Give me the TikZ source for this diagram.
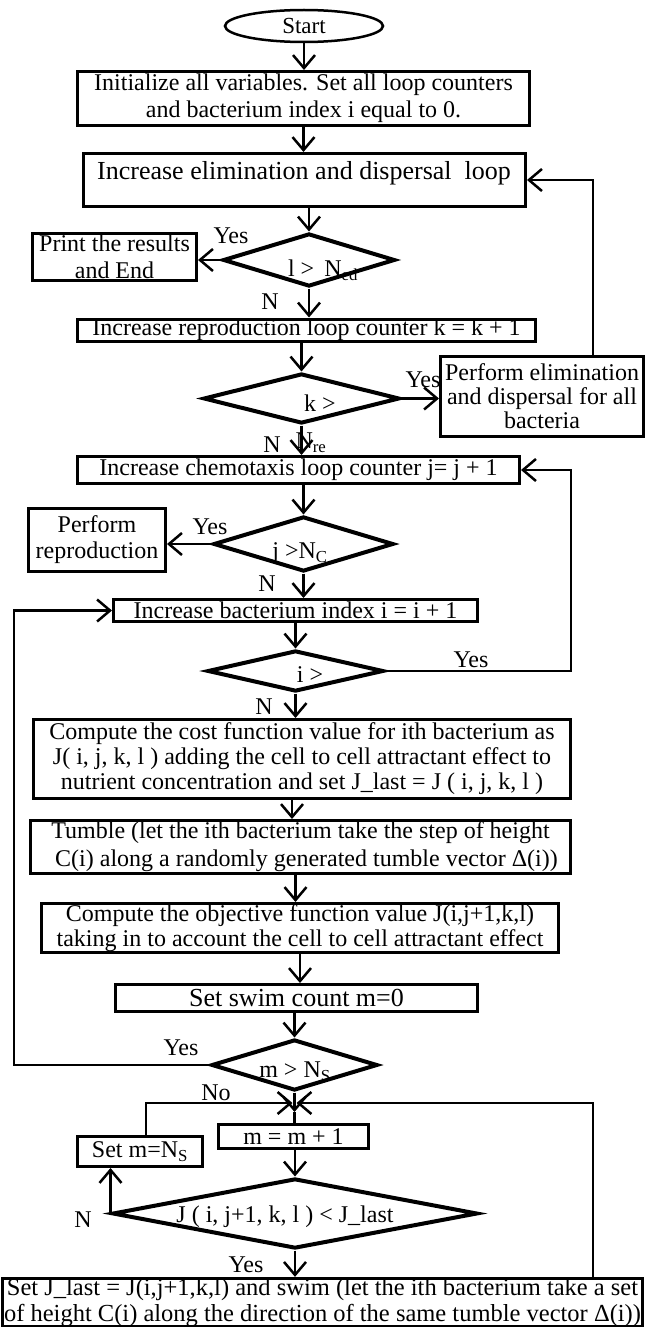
\documentclass[tikz,border=0pt]{standalone}
\usepackage{fontspec}
\setmainfont{Liberation Serif}
\usetikzlibrary{shapes.geometric,arrows.meta,calc}
\newcommand{\fsz}[2]{\fontsize{#1}{#2}\selectfont}
\begin{document}
\begin{tikzpicture}[x=1pt,y=-1pt,
 box/.style={draw,line width=3pt,inner sep=0pt,align=center,font=\fsz{24}{27}},
 dia/.style={draw,diamond,line width=4pt,inner sep=0pt},
 arr/.style={line width=2.5pt,-{Straight Barb[length=13pt,width=22pt]}},
 ln/.style={line width=2.5pt},
 lbl/.style={inner sep=0pt,align=center,font=\fsz{24}{27}}]
\useasboundingbox (0,0) rectangle (645,1327);
% nodes
\node[draw,ellipse,line width=2.5pt,minimum width=158pt,minimum height=32pt,inner sep=0pt,font=\fsz{23}{27}] (start) at (304,26) {Start};
\node[box,minimum width=452pt,minimum height=54pt] (init) at (303.5,98.5) {Initialize all variables. Set all loop counters\\and bacterium index i equal to 0.};
\node[box,minimum width=442pt,minimum height=53pt] (elim) at (304.5,180) {};
\node[lbl,font=\fsz{26}{30}] (elimt) at (304,173) {Increase elimination and dispersal\ \ loop};
\node[dia,minimum width=172pt,minimum height=53pt] (ld) at (309,260) {};
\node[lbl] (ldt) at (323,270) {l > \,N\textsubscript{ed}};
\node[box,minimum width=164pt,minimum height=47pt] (print) at (114.5,257) {Print the results\\and End};
\node[lbl] (y1) at (231,236) {Yes};
\node[lbl] (n1) at (270,302) {N};
\node[box,minimum width=458pt,minimum height=22pt] (repro) at (306.5,330) {Increase reproduction loop counter k = k + 1};
\node[dia,minimum width=196pt,minimum height=50pt] (kd) at (301.5,398.5) {};
\node[lbl] (kdt) at (320,403) {k >};
\node[lbl] (kdt2) at (311,443) {N\textsubscript{re}};
\node[lbl] (n2) at (272,445) {N};
\node[lbl] (y2) at (423,380) {Yes};
\node[box,fill=white,minimum width=203pt,minimum height=80pt,font=\fsz{24}{24}] (pelim) at (542,396) {Perform elimination\\and dispersal for all\\bacteria};
\node[box,minimum width=442pt,minimum height=27pt] (chemo) at (298.5,470) {Increase chemotaxis loop counter j= j + 1};
\node[dia,minimum width=180pt,minimum height=55pt] (jd) at (303.5,544) {};
\node[lbl] (jdt) at (300,553) {j >N\textsubscript{C}};
\node[box,minimum width=137pt,minimum height=63pt,font=\fsz{24}{26}] (prep) at (97,540) {Perform\\reproduction};
\node[lbl] (y3) at (210,527) {Yes};
\node[lbl] (n3) at (267,584) {N};
\node[box,minimum width=364pt,minimum height=22pt] (bact) at (295.5,610.5) {Increase bacterium index i = i + 1};
\node[dia,minimum width=176pt,minimum height=41pt] (id) at (295.5,671) {};
\node[lbl] (idt) at (310,675) {i >};
\node[lbl] (y4) at (471,660) {Yes};
\node[lbl] (n4) at (264,707) {N};
\node[box,minimum width=537pt,minimum height=79pt,font=\fsz{24}{25}] (cost) at (302,759) {Compute the cost function value for ith bacterium as\\J( i, j, k, l ) adding the cell to cell attractant effect to\\nutrient concentration and set J\_last = J ( i, j, k, l )};
\node[box,minimum width=540pt,minimum height=53pt,font=\fsz{24}{28}] (tumble) at (300.5,847) {Tumble (let the ith bacterium take the step of height\\\hspace*{12pt}C(i) along a randomly generated tumble vector Δ(i))};
\node[box,minimum width=517pt,minimum height=49pt,font=\fsz{24}{25}] (obj) at (300,928) {Compute the objective function value J(i,j+1,k,l)\\taking in to account the cell to cell attractant effect};
\node[box,minimum width=362pt,minimum height=27pt,font=\fsz{26}{30}] (swim) at (296.5,998) {Set swim count m=0};
\node[dia,minimum width=166pt,minimum height=51pt] (md) at (294.5,1065) {};
\node[lbl] (mdt) at (295,1072) {m > N\textsubscript{S}};
\node[lbl] (y5) at (181,1048) {Yes};
\node[lbl] (n5) at (216,1093) {No};
\coordinate (junc) at (294.5,1112);
\coordinate (jh) at (294.5,1103);
\coordinate (lloop) at (14,0);
\coordinate (iloop) at (571,0);
\coordinate (eloop) at (593,0);
\node[box,minimum width=150pt,minimum height=24pt] (mbox) at (293.5,1136.5) {m = m + 1};
\node[box,minimum width=125pt,minimum height=30pt] (setm) at (140,1151.5) {Set m=N\textsubscript{S}};
\node[dia,minimum width=365pt,minimum height=70pt] (jl) at (295,1213.5) {};
\node[lbl] (jlt) at (285,1217) {J ( i, j+1, k, l ) < J\_last};
\node[lbl] (n6) at (83,1220) {N};
\node[lbl] (y6) at (246,1265) {Yes};
\node[box,minimum width=640pt,minimum height=46pt,font=\fsz{24.5}{26}] (swimset) at (322.5,1302.5) {Set J\_last = J(i,j+1,k,l) and swim (let the ith bacterium take a set\\of height C(i) along the direction of the same tumble vector Δ(i))};
% connectors
\draw[arr] (start.south) -- (start.south |- init.north);
\draw[arr] (init.south) -- (init.south |- elim.north);
\draw[arr] (ld.north |- elim.south) -- (ld.north);
\draw[arr] (ld.west) -- (ld.west -| print.east);
\draw[arr] (ld.south) -- (ld.south |- repro.north);
\draw[arr] (kd.north |- repro.south) -- (kd.north);
\draw[arr] (kd.east) -- (kd.east -| pelim.west);
\draw[arr] (pelim.north -| eloop) |- (elim.east);
\draw[arr] (kd.south) -- (kd.south |- chemo.north);
\draw[arr] (jd.north |- chemo.south) -- (jd.north);
\draw[arr] (jd.west) -- (jd.west -| prep.east);
\draw[arr] (jd.south) -- (jd.south |- bact.north);
\draw[arr] (id.north |- bact.south) -- (id.north);
\draw[arr] (id.east) -| (iloop |- chemo.east) -- (chemo.east);
\draw[arr] (id.south) -- (id.south |- cost.north);
\draw[arr] ($(cost.south)+(-10,0)$) -- ($(cost.south |- tumble.north)+(-10,0)$);
\draw[arr] ($(tumble.south)+(-5,0)$) -- ($(tumble.south |- obj.north)+(-5,0)$);
\draw[arr] (obj.south) -- (obj.south |- swim.north);
\draw[arr] (md.north |- swim.south) -- (md.north);
\draw[arr] (md.west) -| (lloop |- bact.west) -- (bact.west);
\draw[arr] (md.south) -- (junc);
\draw[ln] (junc) -- (junc |- mbox.north);
\draw[arr] ($(setm.north)+(6,0)$) |- ($(jh)+(-2,0)$);
\draw[arr] (swimset.north -| eloop) |- ($(jh)+(2,0)$);
\draw[arr] (jl.north |- mbox.south) -- (jl.north);
\draw[arr] (jl.west) -- (jl.west |- setm.south);
\draw[arr] (jl.south) -- (jl.south |- swimset.north);
\end{tikzpicture}
\end{document}
